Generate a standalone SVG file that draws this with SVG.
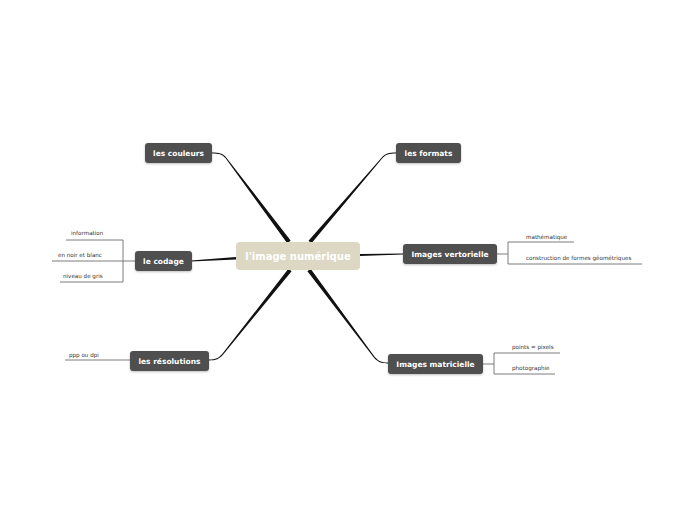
<svg xmlns="http://www.w3.org/2000/svg" width="697" height="520" viewBox="0 0 697 520">
<style>
.node rect{fill:#4f4f4f;}
.node text{fill:#fff;font-family:"DejaVu Sans",Verdana,sans-serif;font-weight:bold;font-size:7.5px;text-anchor:middle;}
.leaf{fill:#333;font-family:"DejaVu Sans",Verdana,sans-serif;font-size:5.6px;}
.ll{stroke:#6e6e6e;stroke-width:0.9;fill:none;}
.br{fill:#111;}
</style>
<defs>
<filter id="sh" x="-20%" y="-30%" width="140%" height="160%">
<feDropShadow dx="0" dy="1" stdDeviation="1" flood-color="#000" flood-opacity="0.25"/>
</filter>
</defs>
<rect width="697" height="520" fill="#fff"/>
<g id="connectors">
<path class="br" d="M212,152.6 C219.5,152.6 222.5,153.3 226.4,157.7 L290.6,240.4 L287.4,243.6 L225.6,158.3 C222,154 219,153.4 212,153.4 Z"/>
<path class="br" d="M396,152.6 C388.5,152.6 385.5,153.3 381.1,158.2 L308.5,240.7 L311.5,243.3 L381.9,158.8 C386,154 389,153.4 396,153.4 Z"/>
<path class="br" d="M209,359.6 C216,359.6 218.6,358 222.2,354.1 L288.4,268.8 L291.6,271.2 L223,354.7 C219.4,358.8 216,360.4 209,360.4 Z"/>
<path class="br" d="M388,362.6 C381,362.6 378.4,361 374.8,357.1 L310.6,268.8 L307.4,271.2 L374,357.7 C377.6,361.8 381,363.4 388,363.4 Z"/>
<path class="br" d="M191,260.4 L236,256.9 L236,259.5 L191,261.6 Z"/>
<path class="br" d="M360,253.9 L403,253.5 L403,254.5 L360,256.1 Z"/>
<path class="ll" d="M123,240 L123,282 M123,261 L135,261 M66,240 L123,240 M52,261 L123,261 M60,282 L123,282"/>
<path class="ll" d="M497,254 L508,254 M508,242 L508,264 M508,242 L574,242 M508,264 L642,264"/>
<path class="ll" d="M65,360 L130,360"/>
<path class="ll" d="M483,364 L494,364 M494,353 L494,374 M494,353 L560,353 M494,374 L555,374"/>
</g>
<g id="central">
<rect x="236" y="242" width="124" height="28" rx="4" fill="#ddd8c3"/>
<text x="298" y="260" fill="#fff" font-family="DejaVu Sans,Verdana,sans-serif" font-weight="bold" font-size="10" text-anchor="middle">l'image numérique</text>
</g>
<g id="n-couleurs" class="node"><rect x="145" y="143" width="67" height="20" rx="3" filter="url(#sh)"/><text x="178.5" y="156">les couleurs</text></g>
<g id="n-formats" class="node"><rect x="396" y="143" width="65" height="20" rx="3" filter="url(#sh)"/><text x="428.5" y="156">les formats</text></g>
<g id="n-vertorielle" class="node"><rect x="403" y="244" width="94" height="20" rx="3" filter="url(#sh)"/><text x="450" y="257">Images vertorielle</text></g>
<g id="n-codage" class="node"><rect x="135" y="251" width="57" height="20" rx="3" filter="url(#sh)"/><text x="163.5" y="264">le codage</text></g>
<g id="n-resolutions" class="node"><rect x="130" y="351" width="79" height="20" rx="3" filter="url(#sh)"/><text x="169.5" y="364">les résolutions</text></g>
<g id="n-matricielle" class="node"><rect x="388" y="354" width="95" height="20" rx="3" filter="url(#sh)"/><text x="435.5" y="367">Images matricielle</text></g>
<g id="leaves">
<text class="leaf" x="71" y="235">information</text>
<text class="leaf" x="58" y="257">en noir et blanc</text>
<text class="leaf" x="63" y="278">niveau de gris</text>
<text class="leaf" x="526" y="239">mathématique</text>
<text class="leaf" x="526" y="260">construction de formes géométriques</text>
<text class="leaf" x="69" y="357">ppp ou dpi</text>
<text class="leaf" x="512" y="349">points = pixels</text>
<text class="leaf" x="512" y="370">photographie</text>
</g>
</svg>
